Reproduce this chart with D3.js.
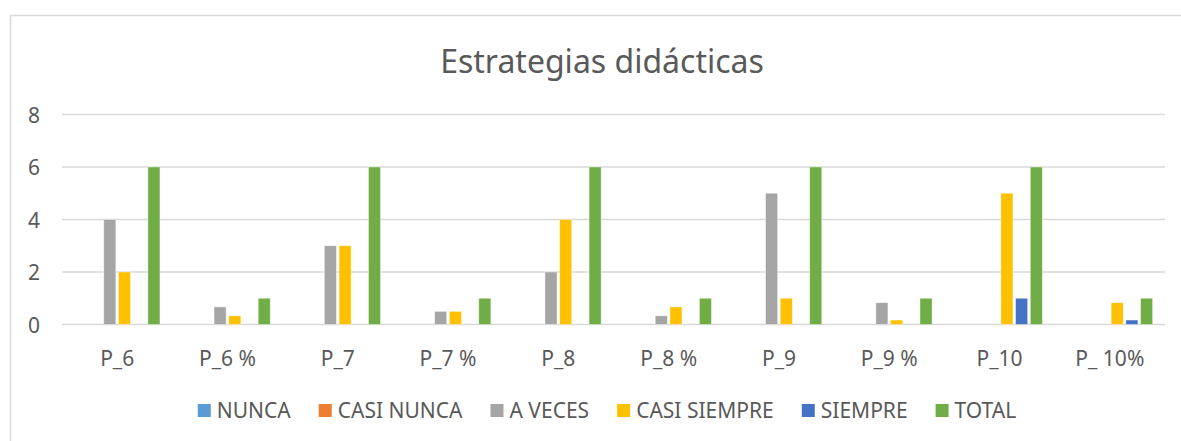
<!DOCTYPE html>
<html>
<head>
<meta charset="utf-8">
<script src="https://cdn.jsdelivr.net/npm/d3@7"></script>
<style>
    body { margin: 0; background: #ffffff; }
    svg { display: block; font-family: "Noto Sans", sans-serif; }
</style>
</head>
<body>
<svg id="chart"></svg>
<script>
// data
const categories = ['P_6', 'P_6 %', 'P_7', 'P_7 %', 'P_8', 'P_8 %', 'P_9', 'P_9 %', 'P_10', 'P_ 10%'];
const seriesNames = ['NUNCA', 'CASI NUNCA', 'A VECES', 'CASI SIEMPRE', 'SIEMPRE', 'TOTAL'];
const nunca       = [0, 0, 0, 0, 0, 0, 0, 0, 0, 0];
const casiNunca   = [0, 0, 0, 0, 0, 0, 0, 0, 0, 0];
const aVeces      = [4, 0.67, 3, 0.5, 2, 0.33, 5, 0.83, 0, 0];
const casiSiempre = [2, 0.33, 3, 0.5, 4, 0.67, 1, 0.17, 5, 0.83];
const siempre     = [0, 0, 0, 0, 0, 0, 0, 0, 1, 0.17];
const total       = [6, 1, 6, 1, 6, 1, 6, 1, 6, 1];
const yTicks = [0, 2, 4, 6, 8];

const seriesValues = [nunca, casiNunca, aVeces, casiSiempre, siempre, total];
const colors = ['#5B9BD5', '#ED7D31', '#A5A5A5', '#FFC000', '#4472C4', '#70AD47'];

// layout
const width = 1181, height = 441;
const plot = { left: 62, right: 1165, top: 114.5, bottom: 324.5 };
const textColor = '#595959';

const svg = d3.select('#chart')
    .attr('width', width)
    .attr('height', height);

// chart frame (right / bottom edges are cut off in the reference)
svg.append('rect')
    .attr('x', 10.5)
    .attr('y', 15.5)
    .attr('width', 1200)
    .attr('height', 500)
    .attr('fill', 'none')
    .attr('stroke', '#d9d9d9')
    .attr('stroke-width', 1.5);

// title
svg.append('text')
    .attr('x', 602)
    .attr('y', 73)
    .attr('text-anchor', 'middle')
    .attr('fill', textColor)
    .style('font-size', '32px')
    .text('Estrategias didácticas');

// scales
const x0 = d3.scaleBand()
    .domain(categories)
    .range([plot.left, plot.right])
    .paddingInner(0.2)
    .paddingOuter(0.1);

const x1 = d3.scaleBand()
    .domain(seriesNames)
    .range([0, x0.bandwidth()])
    .paddingInner(0.18)
    .paddingOuter(0.09);

const y = d3.scaleLinear()
    .domain([0, 8])
    .range([plot.bottom, plot.top]);

// gridlines
svg.append('g')
    .selectAll('line')
    .data(yTicks)
    .join('line')
    .attr('x1', plot.left)
    .attr('x2', plot.right)
    .attr('y1', d => y(d))
    .attr('y2', d => y(d))
    .attr('stroke', '#d9d9d9')
    .attr('stroke-width', 1.5);

// y axis labels
const yAxis = d3.axisLeft(y)
    .tickValues(yTicks)
    .tickSize(0)
    .tickPadding(0)
    .tickFormat(d3.format('d'));

const yAxisG = svg.append('g')
    .attr('transform', 'translate(40,0)')
    .call(yAxis);
yAxisG.select('.domain').remove();
yAxisG.selectAll('text')
    .attr('fill', textColor)
    .attr('dy', '0.36em')
    .style('font-size', '21px')
    .style('font-family', '"Noto Sans", sans-serif');

// x axis labels
const xAxis = d3.axisBottom(x0)
    .tickSize(0)
    .tickPadding(0);

const xAxisG = svg.append('g')
    .attr('transform', `translate(0,${plot.bottom})`)
    .call(xAxis);
xAxisG.select('.domain').remove();
xAxisG.selectAll('text')
    .attr('fill', textColor)
    .attr('y', 41)
    .attr('dy', 0)
    .style('font-size', '21px')
    .style('font-family', '"Noto Sans", sans-serif');

// bars
const rows = categories.map((c, i) => ({
    cat: c,
    vals: seriesNames.map((s, j) => ({ key: s, value: seriesValues[j][i], color: colors[j] }))
}));

svg.append('g')
    .selectAll('g')
    .data(rows)
    .join('g')
    .attr('transform', d => `translate(${x0(d.cat)},0)`)
    .selectAll('rect')
    .data(d => d.vals.filter(v => v.value > 0))
    .join('rect')
    .attr('x', d => x1(d.key))
    .attr('width', x1.bandwidth())
    .attr('y', d => y(d.value))
    .attr('height', d => y(0) - y(d.value))
    .attr('fill', d => d.color)
    .attr('stroke', '#ffffff')
    .attr('stroke-opacity', 0.5)
    .attr('stroke-width', 0.8);

// legend
const legend = svg.append('g');
const items = legend.selectAll('g')
    .data(seriesNames)
    .join('g');

items.append('rect')
    .attr('width', 13)
    .attr('height', 13)
    .attr('y', -14)
    .attr('fill', (d, i) => colors[i]);

items.append('text')
    .attr('x', 19)
    .attr('y', 0)
    .attr('fill', textColor)
    .style('font-size', '21px')
    .text(d => d);

// place legend items side by side, centred
const gap = 28;
let offset = 0;
const positions = [];
items.each(function() {
    const w = 19 + this.querySelector('text').getComputedTextLength();
    positions.push(offset);
    offset += w + gap;
});
const legendWidth = offset - gap;
const legendStart = 607 - legendWidth / 2;
items.attr('transform', (d, i) => `translate(${legendStart + positions[i]},418)`);
</script>
</body>
</html>
